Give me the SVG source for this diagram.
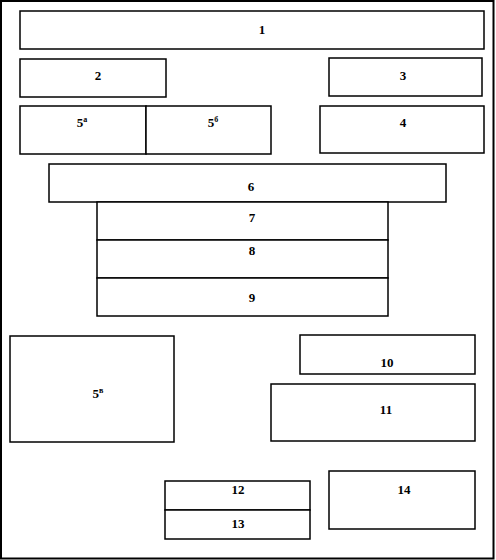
<svg xmlns="http://www.w3.org/2000/svg" width="496" height="560" viewBox="0 0 496 560">
<style>
.b{fill:#fff;stroke:#000;stroke-width:1.5}
.t{font-family:"Liberation Serif","Times New Roman",serif;font-size:13px;font-weight:bold;text-anchor:middle;fill:#000}
.s{font-size:8px}
</style>
<rect x="0" y="0" width="496" height="560" fill="#fff"/>
<rect x="1" y="1" width="492.5" height="557.5" fill="none" stroke="#000" stroke-width="2"/>
<g id="n1"><rect class="b" x="20" y="11" width="464" height="38"/><text class="t" x="262" y="34">1</text></g>
<g id="n2"><rect class="b" x="20" y="59" width="146" height="38"/><text class="t" x="98" y="80">2</text></g>
<g id="n3"><rect class="b" x="329" y="58" width="153" height="38"/><text class="t" x="403" y="80">3</text></g>
<g id="n5a"><rect class="b" x="20" y="106" width="126" height="48"/><text class="t" x="82" y="127">5<tspan class="s" dy="-5">а</tspan></text></g>
<g id="n5b"><rect class="b" x="146" y="106" width="125" height="48"/><text class="t" x="213" y="127">5<tspan class="s" dy="-5">б</tspan></text></g>
<g id="n4"><rect class="b" x="320" y="106" width="164" height="47"/><text class="t" x="403" y="127">4</text></g>
<g id="n6"><rect class="b" x="49" y="164" width="397" height="38"/><text class="t" x="251" y="191">6</text></g>
<g id="n7"><rect class="b" x="97" y="202" width="291" height="38"/><text class="t" x="252" y="222">7</text></g>
<g id="n8"><rect class="b" x="97" y="240" width="291" height="38"/><text class="t" x="252" y="255">8</text></g>
<g id="n9"><rect class="b" x="97" y="278" width="291" height="38"/><text class="t" x="252" y="302">9</text></g>
<g id="n5v"><rect class="b" x="10" y="336" width="164" height="106"/><text class="t" x="98" y="398">5<tspan class="s" dy="-5">в</tspan></text></g>
<g id="n10"><rect class="b" x="300" y="335" width="175" height="39"/><text class="t" x="387" y="367">10</text></g>
<g id="n11"><rect class="b" x="271" y="384" width="204" height="57"/><text class="t" x="386" y="414">11</text></g>
<g id="n12"><rect class="b" x="165" y="481" width="145" height="29"/><text class="t" x="238" y="494">12</text></g>
<g id="n13"><rect class="b" x="165" y="510" width="145" height="29"/><text class="t" x="238" y="528">13</text></g>
<g id="n14"><rect class="b" x="329" y="471" width="146" height="58"/><text class="t" x="404" y="494">14</text></g>
<g id="connectors"></g>
</svg>
